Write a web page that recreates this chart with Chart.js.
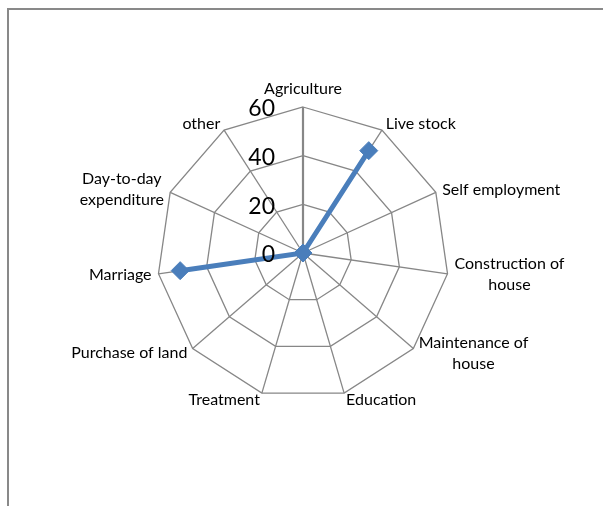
<!DOCTYPE html>
<html>
<head>
<meta charset="utf-8">
<script src="https://cdn.jsdelivr.net/npm/chart.js@4"></script>
<style>
  html, body { margin: 0; padding: 0; background: #fff; }
  #wrap { position: relative; width: 603px; height: 506px; overflow: hidden; }
  #frame { position: absolute; left: 7px; top: 8px; width: 620px; height: 520px; border: 2px solid #898989; box-sizing: border-box; }
  canvas { position: absolute; left: 0; top: 0; }
</style>
</head>
<body>
<div id="wrap">
  <div id="frame"></div>
  <canvas id="c" width="603" height="506"></canvas>
</div>
<script>
const categories = [
  'Agriculture', 'Live stock', 'Self employment', ['Construction of', 'house'],
  ['Maintenance of', 'house'], 'Education', 'Treatment', 'Purchase of land',
  'Marriage', ['Day-to-day', 'expenditure'], 'other'
];
const seriesValues = [0, 50, 0, 0, 0, 0, 0, 0, 51, 0, 0];
const tickValues = [0, 20, 40, 60];
const tickLabels = ['0', '20', '40', '60'];

const tickPlugin = {
  id: 'tickPlugin',
  afterDatasetsDraw(chart) {
    const s = chart.scales.r;
    const ctx = chart.ctx;
    ctx.save();
    ctx.font = '23px Lato';
    ctx.fillStyle = '#000';
    ctx.textAlign = 'right';
    ctx.textBaseline = 'middle';
    tickValues.forEach((v, i) => {
      const d = s.getDistanceFromCenterForValue(v);
      ctx.fillText(tickLabels[i], s.xCenter - 28, s.yCenter - d + 2);
    });
    ctx.restore();
  }
};

const labelPlugin = {
  id: 'labelPlugin',
  afterDraw(chart) {
    const s = chart.scales.r;
    const ctx = chart.ctx;
    ctx.save();
    ctx.font = '16px Lato';
    ctx.fillStyle = '#000';
    ctx.textAlign = 'center';
    ctx.textBaseline = 'middle';
    const outer = s.getDistanceFromCenterForValue(s.max);
    const lh = 21;
    chart.data.labels.forEach((lab, i) => {
      const lines = Array.isArray(lab) ? lab : [lab];
      const v = s.getPointPosition(i, outer);
      const dx = v.x - s.xCenter, dy = v.y - s.yCenter;
      const p = s.getPointPosition(i, outer + 7);
      const w = Math.max(...lines.map(l => ctx.measureText(l).width));
      let left;
      if (Math.abs(dx) < 1) left = p.x - w / 2;
      else if (dx > 0) left = p.x;
      else left = p.x - w;
      let top;
      if (Math.abs(dx) < 1 && dy < 0) top = p.y - lines.length * lh - 1;
      else if (Math.abs(dx) < 1) top = p.y + 1;
      else top = p.y - lines.length * lh / 2;
      lines.forEach((l, k) => ctx.fillText(l, left + w / 2, top + lh * k + lh / 2));
    });
    ctx.restore();
  }
};

new Chart(document.getElementById('c'), {
  type: 'radar',
  data: {
    labels: categories,
    datasets: [{
      data: seriesValues,
      borderColor: '#4A7EBB',
      backgroundColor: '#4A7EBB',
      borderWidth: 5,
      fill: false,
      pointStyle: 'rectRot',
      pointRadius: 9,
      pointBorderWidth: 1,
      pointBackgroundColor: '#4A7EBB',
      pointBorderColor: '#4A7EBB',
      tension: 0
    }]
  },
  options: {
    responsive: false,
    animation: false,
    devicePixelRatio: 1,
    layout: { padding: { left: 3, right: 0, top: 107, bottom: 107 } },
    plugins: { legend: { display: false }, tooltip: { enabled: false } },
    scales: {
      r: {
        min: 0, max: 60,
        ticks: { display: false, stepSize: 20 },
        grid: { color: '#878787', lineWidth: 1.3 },
        angleLines: {
          color: '#878787',
          lineWidth: (ctx) => ctx.index === 0 ? 2.2 : 1.3
        },
        pointLabels: { display: false }
      }
    }
  },
  plugins: [tickPlugin, labelPlugin]
});
</script>
</body>
</html>
